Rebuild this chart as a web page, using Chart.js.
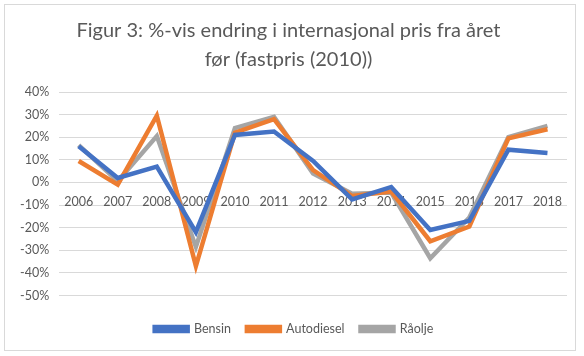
<!DOCTYPE html>
<html>
<head>
<meta charset="utf-8">
<script src="https://cdn.jsdelivr.net/npm/chart.js@4/dist/chart.umd.min.js"></script>
<style>
  html, body { margin: 0; padding: 0; background: #fff; }
  #wrap { position: relative; width: 584px; height: 356px; }
  #frame { position: absolute; left: 4px; top: 4px; width: 572px; height: 347px; border: 1px solid #d9d9d9; box-sizing: border-box; pointer-events: none; }
  canvas { position: absolute; left: 0; top: 0; }
</style>
</head>
<body>
<div id="wrap">
  <canvas id="c" width="584" height="356"></canvas>
  <div id="frame"></div>
</div>
<script>
const years = ["2006","2007","2008","2009","2010","2011","2012","2013","2014","2015","2016","2017","2018"];
const bensin     = [16, 2, 7, -22, 21, 22.5, 9.5, -7.5, -2, -21, -17, 14.5, 13];
const autodiesel = [9.5, -1, 29.5, -37, 22, 28, 5.5, -6, -4, -26, -19.5, 19.5, 23.5];
const raolje     = [16.5, 0.5, 20.5, -28.5, 24, 29, 4, -5, -4.5, -33.5, -15.5, 20, 25];
const titleLines = ["Figur 3: %-vis endring i internasjonal pris fra året", "før (fastpris (2010))"];
const yTicks = { min: -50, max: 40, step: 10 };

const FONT = "Lato, 'Open Sans', sans-serif";
const TXT = "#595959";

function ds(label, data, color) {
  return { label, data, borderColor: color, backgroundColor: color, borderWidth: 4.5,
           pointRadius: 0, pointHoverRadius: 0, tension: 0, fill: false, borderJoinStyle: 'miter' };
}

// move the legend to where the reference has it (centre x ~294, centre y ~326)
const legendShift = {
  id: 'legendShift',
  afterLayout(chart) {
    const l = chart.legend;
    if (!l) return;
    const dx = 294 - (l.left + l.right) / 2;
    const dy = 326 - (l.top + l.bottom) / 2;
    l.left += dx; l.right += dx; l.top += dy; l.bottom += dy;
  }
};

new Chart(document.getElementById('c'), {
  type: 'line',
  data: {
    labels: years,
    datasets: [
      ds("Bensin", bensin, "#4472C4"),
      ds("Autodiesel", autodiesel, "#ED7D31"),
      ds("Råolje", raolje, "#A5A5A5")
    ]
  },
  options: {
    responsive: false,
    animation: false,
    devicePixelRatio: 1,
    layout: { padding: { left: 10, right: 17, top: 16, bottom: 22 } },
    plugins: {
      title: {
        display: true, text: titleLines, color: TXT,
        font: { family: FONT, size: 20, weight: 'normal', lineHeight: 1.45 },
        padding: { top: 0, bottom: 18 }
      },
      legend: {
        position: 'bottom',
        labels: {
          color: TXT, font: { family: FONT, size: 12.5 },
          boxWidth: 33, boxHeight: 4, padding: 16
        }
      },
      tooltip: { enabled: false }
    },
    scales: {
      x: {
        position: { y: 0 },
        grid: { display: false },
        border: { display: false },
        offset: true,
        ticks: { color: TXT, font: { family: FONT, size: 12.5 }, padding: 4, maxRotation: 0, autoSkip: false }
      },
      y: {
        min: yTicks.min, max: yTicks.max,
        grid: { color: "#d9d9d9", lineWidth: 1, drawTicks: false },
        border: { display: false },
        ticks: { stepSize: yTicks.step, color: TXT, font: { family: FONT, size: 12.5 }, padding: 10,
                 callback: v => v + "%" }
      }
    }
  },
  plugins: [legendShift]
});
</script>
</body>
</html>
